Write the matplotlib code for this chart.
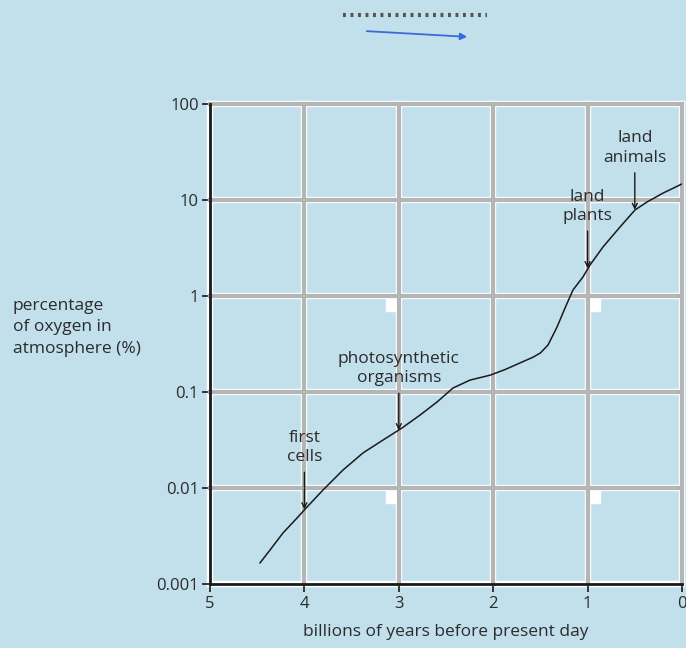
import numpy as np
import matplotlib
matplotlib.use('Agg')
import matplotlib.pyplot as plt
from matplotlib.lines import Line2D
from matplotlib.patches import FancyArrowPatch

plt.rcParams['font.family'] = ['Open Sans', 'DejaVu Sans']

# oxygen curve
years_ago = [4.47, 4.364, 4.227, 4.078, 3.972, 3.803, 3.591, 3.379, 3.167, 2.966, 2.775, 2.595,
             2.426, 2.246, 2.03, 1.87, 1.72, 1.58, 1.50, 1.419, 1.324, 1.239, 1.155, 1.049,
             0.975, 0.837, 0.657, 0.498, 0.371, 0.201, 0.0]
oxygen_pct = [0.00166, 0.00226, 0.0034, 0.00487, 0.00634, 0.00953, 0.0154, 0.0232, 0.0316, 0.0422,
              0.0575, 0.0787, 0.110, 0.133, 0.150, 0.172, 0.200, 0.230, 0.255, 0.309, 0.475, 0.75,
              1.155, 1.58, 2.10, 3.24, 5.23, 7.87, 9.53, 11.8, 14.7]

events = ['first\ncells', 'photosynthetic\norganisms', 'land\nplants', 'land\nanimals']
event_x = [4.0, 3.0, 1.0, 0.5]
event_y = [0.0060, 0.040, 1.95, 7.9]

x_ticks = [5, 4, 3, 2, 1, 0]
y_ticks = [0.001, 0.01, 0.1, 1, 10, 100]
y_labels = ['0.001', '0.01', '0.1', '1', '10', '100']

bg = '#c1e0ec'
txt = '#2b2b2b'
grid_c = '#b5b5b5'

fig = plt.figure(figsize=(6.86, 6.48), dpi=100, facecolor=bg)
ax = fig.add_axes([210/686, 64/648, 472/686, 480/648])
ax.set_facecolor(bg)
ax.set_yscale('log')
ax.set_xlim(5, 0)
ax.set_ylim(0.001, 100)

# grid: thin white halo under a grey line
for x in x_ticks:
    ax.axvline(x, color='white', lw=4.6, zorder=1, clip_on=False)
    if x != 5:
        ax.axvline(x, color=grid_c, lw=3, zorder=2, clip_on=False)
for y in y_ticks:
    ax.axhline(y, color='white', lw=4.6, zorder=1, clip_on=False)
    if y != 0.001:
        ax.axhline(y, color=grid_c, lw=3, zorder=2, clip_on=False)

# little white squares near some crossings
for sx in [3.07, 0.93]:
    for sy in [0.01, 1]:
        ax.plot(sx, sy * 0.8, marker='s', ms=8, color='white', mec='white', zorder=1.5)

ax.plot(years_ago, oxygen_pct, color='#1a1a1a', lw=1.1, zorder=4)

for label, ex, ey in zip(events, event_x, event_y):
    ax.annotate(label, xy=(ex, ey), xytext=(0, 44), textcoords='offset pixels',
                ha='center', va='bottom', fontsize=12.5, color=txt, linespacing=1.3,
                arrowprops=dict(arrowstyle='->', color='#1a1a1a', lw=1.0,
                                shrinkA=3, shrinkB=0, mutation_scale=9),
                zorder=5)

for side in ['top', 'right']:
    ax.spines[side].set_visible(False)
for side in ['left', 'bottom']:
    ax.spines[side].set_linewidth(2)
    ax.spines[side].set_color('#1a1a1a')
    ax.spines[side].set_zorder(6)

ax.set_xticks(x_ticks)
ax.set_xticklabels([str(t) for t in x_ticks])
ax.set_yticks(y_ticks)
ax.set_yticklabels(y_labels)
ax.minorticks_off()
ax.tick_params(axis='both', length=6, width=1.2, color='#1a1a1a', labelsize=12, labelcolor=txt)
ax.tick_params(axis='y', pad=2)
ax.tick_params(axis='x', pad=3)

ax.set_xlabel('billions of years before present day', fontsize=12.5, color=txt, labelpad=8)
fig.text(13/686, 1 - 298/648, 'percentage\nof oxygen in\natmosphere (%)', ha='left', va='top',
         fontsize=12.5, color=txt, linespacing=1.45)

# decorations at the top
fig.add_artist(Line2D([343/686, 487/686], [1 - 15/648, 1 - 15/648], color='#555555', lw=3,
                      dashes=(0.7, 1.1)))
fig.add_artist(FancyArrowPatch((364/686, 1 - 31/648), (470/686, 1 - 37/648),
                               transform=fig.transFigure, arrowstyle='-|>', color='#3a6ad8',
                               lw=1.3, mutation_scale=10))

fig.savefig('out.png', dpi=100, facecolor=bg)
